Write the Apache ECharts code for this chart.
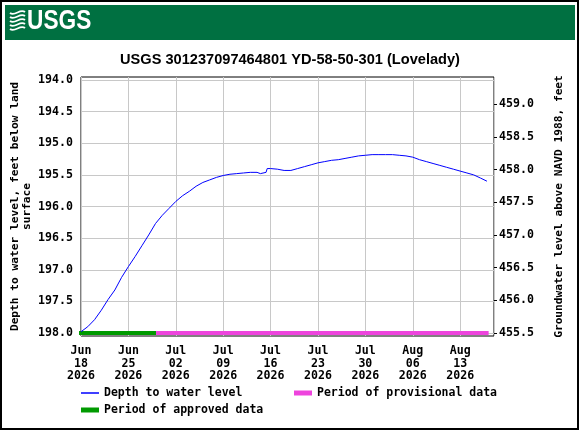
<!DOCTYPE html>
<html>
<head>
<meta charset="utf-8">
<script src="https://cdn.jsdelivr.net/npm/echarts@6/dist/echarts.min.js"></script>
<style>
  html, body { margin: 0; padding: 0; background: #fff; }
  #chart { width: 580px; height: 430px; }
</style>
</head>
<body>
<div id="chart"></div>
<script>
// readings (UTC), depth to water level in feet below land surface
const startDate = '2026-06-18T00:00Z';
const times = [
  '2026-06-18T00:00Z', '2026-06-19T00:00Z', '2026-06-20T00:00Z', '2026-06-21T00:00Z',
  '2026-06-22T00:00Z', '2026-06-23T00:00Z', '2026-06-24T00:00Z', '2026-06-25T00:00Z',
  '2026-06-26T00:00Z', '2026-06-27T00:00Z', '2026-06-28T00:00Z', '2026-06-29T00:00Z',
  '2026-06-30T00:00Z', '2026-07-01T00:00Z', '2026-07-02T00:00Z', '2026-07-03T00:00Z',
  '2026-07-04T00:00Z', '2026-07-05T00:00Z', '2026-07-06T00:00Z', '2026-07-07T00:00Z',
  '2026-07-08T00:00Z', '2026-07-09T00:00Z', '2026-07-10T00:00Z', '2026-07-11T00:00Z',
  '2026-07-12T00:00Z', '2026-07-13T00:00Z', '2026-07-14T00:00Z', '2026-07-14T12:00Z',
  '2026-07-15T08:00Z', '2026-07-15T12:00Z', '2026-07-16T00:00Z', '2026-07-17T00:00Z',
  '2026-07-18T00:00Z', '2026-07-19T00:00Z', '2026-07-20T00:00Z', '2026-07-21T00:00Z',
  '2026-07-22T00:00Z', '2026-07-23T00:00Z', '2026-07-24T00:00Z', '2026-07-25T00:00Z',
  '2026-07-26T00:00Z', '2026-07-27T00:00Z', '2026-07-28T00:00Z', '2026-07-29T00:00Z',
  '2026-07-30T00:00Z', '2026-07-31T00:00Z', '2026-08-01T00:00Z', '2026-08-02T00:00Z',
  '2026-08-03T00:00Z', '2026-08-04T00:00Z', '2026-08-05T00:00Z', '2026-08-06T00:00Z',
  '2026-08-07T00:00Z', '2026-08-08T00:00Z', '2026-08-09T00:00Z', '2026-08-10T00:00Z',
  '2026-08-11T00:00Z', '2026-08-12T00:00Z', '2026-08-13T00:00Z', '2026-08-14T00:00Z',
  '2026-08-15T00:00Z', '2026-08-16T00:00Z', '2026-08-16T23:00Z'
];
const depth = [
  197.98, 197.90, 197.79, 197.64,
  197.47, 197.32, 197.12, 196.95,
  196.79, 196.62, 196.45, 196.27,
  196.14, 196.03, 195.92, 195.83,
  195.76, 195.68, 195.62, 195.58,
  195.54, 195.51, 195.49, 195.48,
  195.47, 195.46, 195.46, 195.48,
  195.46, 195.40, 195.40, 195.41,
  195.43, 195.43, 195.40, 195.37,
  195.34, 195.31, 195.29, 195.27,
  195.26, 195.24, 195.22, 195.20,
  195.19, 195.18, 195.18, 195.18,
  195.18, 195.19, 195.20, 195.22,
  195.26, 195.29, 195.32, 195.35,
  195.38, 195.41, 195.44, 195.47,
  195.50, 195.55, 195.60
];
const approvedPeriod = ['2026-06-17T13:00Z', '2026-06-29T02:00Z'];
const provisionalPeriod = ['2026-06-29T02:00Z', '2026-08-17T05:00Z'];

const depthTicks = [194.0, 194.5, 195.0, 195.5, 196.0, 196.5, 197.0, 197.5, 198.0];
const elevTicks = [455.5, 456.0, 456.5, 457.0, 457.5, 458.0, 458.5, 459.0];
const dayTicks = [0, 7, 14, 21, 28, 35, 42, 49, 56];
const months = ['Jan', 'Feb', 'Mar', 'Apr', 'May', 'Jun', 'Jul', 'Aug', 'Sep', 'Oct', 'Nov', 'Dec'];

const DAY = 86400000;
const t0 = Date.parse(startDate);
const dayOf = t => (Date.parse(t) - t0) / DAY;

const mono = 'DejaVu Sans Mono';
const labelFont = {fontFamily: mono, fontWeight: 'bold', fontSize: 11.6, color: '#000'};
const nameFont = {fontFamily: mono, fontWeight: 'bold', fontSize: 11.2, lineHeight: 12, color: '#000'};

const dateLabel = v => {
  if (Math.abs(v / 7 - Math.round(v / 7)) > 1e-6 || v > 56) return '';
  const d = new Date(t0 + v * DAY);
  return months[d.getUTCMonth()] + '\n' + String(d.getUTCDate()).padStart(2, '0') + '\n' + d.getUTCFullYear();
};

const chart = echarts.init(document.getElementById('chart'), null, {renderer: 'canvas'});

// wavy lines of the logo mark
const waves = [13, 17, 21, 25, 29].map(y => ({
  type: 'bezierCurve',
  shape: {x1: 10, y1: y, cpx1: 15, cpy1: y + 4, cpx2: 20, cpy2: y - 5, x2: 25, y2: y - 1},
  style: {stroke: '#fff', lineWidth: 1.8, fill: null},
  z: 10
}));

chart.setOption({
  animation: false,
  backgroundColor: '#fff',
  graphic: [
    {type: 'rect', shape: {x: 1, y: 1, width: 577, height: 428}, style: {fill: null, stroke: '#000', lineWidth: 2}, z: 10},
    {type: 'rect', shape: {x: 5, y: 5, width: 570, height: 35}, style: {fill: '#007041'}, z: 5},
    {type: 'text', x: 27, y: 22, scaleX: 0.84,
      style: {text: 'USGS', x: 0, y: 0, verticalAlign: 'middle', fontFamily: 'Liberation Sans', fontWeight: 'bold', fontSize: 27, fill: '#fff'}, z: 10},
    ...waves,
    {type: 'text', x: 290, y: 60,
      style: {text: 'USGS 301237097464801 YD-58-50-301 (Lovelady)', align: 'center', verticalAlign: 'middle',
        fontFamily: 'Liberation Sans', fontWeight: 'bold', fontSize: 14.6, fill: '#000'}, z: 10}
  ],
  grid: [
    {left: 81, right: 86, top: 80, bottom: 97, show: false, containLabel: false, outerBoundsMode: 'none'},
    {left: 81, right: 86, top: 77, bottom: 94, show: true, borderColor: '#000', borderWidth: 1,
      backgroundColor: 'transparent', containLabel: false, outerBoundsMode: 'none'}
  ],
  xAxis: [
    {
      type: 'value', gridIndex: 0, min: 0, max: 61, interval: 7,
      axisLine: {show: false}, axisTick: {show: false}, splitLine: {show: false},
      axisLabel: {...labelFont, lineHeight: 12.5, margin: 12, formatter: dateLabel, customValues: dayTicks}
    },
    {
      type: 'value', gridIndex: 1, min: 0, max: 61, interval: 7,
      axisLine: {show: false}, axisTick: {show: false}, axisLabel: {show: false},
      splitLine: {show: true, lineStyle: {color: '#c8c8c8', width: 1}}
    }
  ],
  yAxis: [
    {
      type: 'value', gridIndex: 0, inverse: true, min: 194, max: 198, interval: 0.5,
      name: 'Depth to water level, feet below land\nsurface',
      nameLocation: 'middle', nameGap: 48, nameRotate: 90, nameMoveOverlap: false, nameTextStyle: nameFont,
      axisLine: {show: false}, axisTick: {show: false},
      axisLabel: {...labelFont, margin: 8, formatter: v => v.toFixed(1), customValues: depthTicks},
      splitLine: {show: true, lineStyle: {color: '#c8c8c8', width: 1}}
    },
    {
      type: 'value', gridIndex: 0, position: 'right', min: 455.5, max: 459.37, interval: 0.5,
      name: 'Groundwater level above NAVD 1988, feet',
      nameLocation: 'middle', nameGap: 59, nameRotate: 90, nameMoveOverlap: false, nameTextStyle: nameFont,
      axisLine: {show: false},
      axisTick: {show: true, length: 3, lineStyle: {color: '#000'}, customValues: elevTicks},
      axisLabel: {...labelFont, margin: 5, customValues: elevTicks,
        formatter: v => (elevTicks.some(e => Math.abs(e - v) < 1e-6) ? v.toFixed(1) : '')},
      splitLine: {show: false}
    },
    {type: 'value', gridIndex: 1, min: 0, max: 1, show: false}
  ],
  legend: [
    {
      left: 81, top: 387, padding: 0, itemWidth: 18, itemHeight: 1.5, selectedMode: false,
      textStyle: {...labelFont, fontSize: 11.5, lineHeight: 12},
      data: [{name: 'Depth to water level', icon: 'rect', itemStyle: {color: '#0000ff'}}]
    },
    {
      left: 294, top: 387, padding: 0, itemWidth: 18, itemHeight: 5, selectedMode: false,
      textStyle: {...labelFont, fontSize: 11.5, lineHeight: 12},
      data: [{name: 'Period of provisional data', icon: 'rect', itemStyle: {color: '#ee44dd'}}]
    },
    {
      left: 81, top: 404, padding: 0, itemWidth: 18, itemHeight: 5, selectedMode: false,
      textStyle: {...labelFont, fontSize: 11.5, lineHeight: 12},
      data: [{name: 'Period of approved data', icon: 'rect', itemStyle: {color: '#009a00'}}]
    }
  ],
  series: [
    {
      name: 'Period of approved data', type: 'line', xAxisIndex: 0, yAxisIndex: 0,
      showSymbol: false, symbol: 'none', clip: false, z: 2,
      lineStyle: {color: '#009a00', width: 4}, itemStyle: {color: '#009a00'},
      data: approvedPeriod.map(t => [dayOf(t), 198.0])
    },
    {
      name: 'Period of provisional data', type: 'line', xAxisIndex: 0, yAxisIndex: 0,
      showSymbol: false, symbol: 'none', clip: false, z: 2,
      lineStyle: {color: '#ee44dd', width: 4}, itemStyle: {color: '#ee44dd'},
      data: provisionalPeriod.map(t => [dayOf(t), 198.0])
    },
    {
      name: 'Depth to water level', type: 'line', xAxisIndex: 0, yAxisIndex: 0,
      showSymbol: false, symbol: 'none', z: 3,
      lineStyle: {color: '#0000ff', width: 1}, itemStyle: {color: '#0000ff'},
      data: times.map((t, i) => [dayOf(t), depth[i]])
    }
  ]
});
</script>
</body>
</html>
